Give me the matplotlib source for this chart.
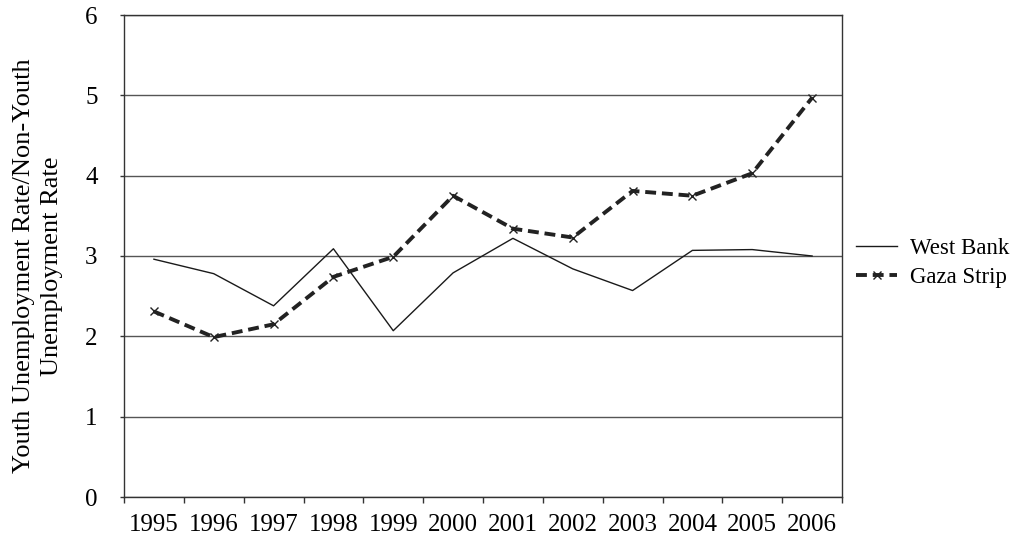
import matplotlib
matplotlib.use("Agg")
import matplotlib.pyplot as plt
import numpy as np

years = ["1995", "1996", "1997", "1998", "1999", "2000", "2001", "2002", "2003", "2004", "2005", "2006"]
west_bank = [2.96, 2.78, 2.38, 3.09, 2.07, 2.79, 3.22, 2.84, 2.57, 3.07, 3.08, 3.00]
gaza_strip = [2.31, 1.99, 2.15, 2.74, 2.99, 3.75, 3.34, 3.23, 3.81, 3.75, 4.03, 4.97]
y_ticks = [0, 1, 2, 3, 4, 5, 6]

plt.rcParams['font.family'] = ['Liberation Serif', 'DejaVu Serif']

W, H = 1016, 538
fig = plt.figure(figsize=(W / 100, H / 100), dpi=100)
ax = fig.add_axes([124 / W, 1 - 497 / H, (842 - 124) / W, (497 - 15) / H])

x = np.arange(len(years))
ax.plot(x, west_bank, color="#1a1a1a", lw=1.0, label="West Bank")
ax.plot(x, gaza_strip, color="#222222", lw=2.8, ls=(0, (2.8, 1.5)), marker="x",
        markersize=6, markeredgewidth=1.0, label="Gaza Strip")

ax.set_xlim(-0.5, len(years) - 0.5)
ax.set_ylim(0, 6)
ax.set_yticks(y_ticks)
ax.set_yticklabels([str(v) for v in y_ticks], fontsize=18)
ax.set_xticks(x)
ax.set_xticklabels(years, fontsize=18)
ax.set_xticks(np.arange(len(years) + 1) - 0.5, minor=True)
ax.tick_params(axis="x", which="major", length=0, pad=12)
ax.tick_params(axis="x", which="minor", length=4, width=1, color="#333333")
ax.tick_params(axis="y", length=3, width=1, color="#333333", pad=16)
ax.yaxis.grid(True, color="#555555", lw=1.0)
ax.set_axisbelow(True)
for s in ax.spines.values():
    s.set_color("#333333")
    s.set_linewidth(1.0)

fig.text(38 / W, 1 - 266 / H, "Youth Unemployment Rate/Non-Youth\nUnemployment Rate",
         rotation=90, ha="center", va="center", fontsize=19, linespacing=1.3)

ax.legend(loc="center left", bbox_to_anchor=(856 / W, 1 - 263 / H), bbox_transform=fig.transFigure,
          frameon=False, fontsize=16.5, handlelength=1.8, handletextpad=0.57, labelspacing=0.35,
          borderaxespad=0, borderpad=0)

fig.savefig("out.png", dpi=100)
